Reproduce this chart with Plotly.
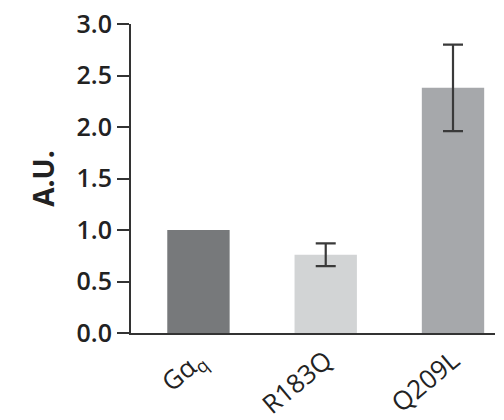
import plotly.graph_objects as go

categories = ["Gα<sub>q</sub>", "R183Q", "Q209L"]
values = [1.0, 0.76, 2.38]
err_categories = ["R183Q", "Q209L"]
err_values = [0.76, 2.38]
errors = [0.11, 0.42]
colors = ["#77797b", "#d2d4d5", "#a6a8ab"]
y_ticks = [0.0, 0.5, 1.0, 1.5, 2.0, 2.5, 3.0]
y_tick_labels = ["0.0", "0.5", "1.0", "1.5", "2.0", "2.5", "3.0"]

fig = go.Figure()
fig.add_trace(go.Bar(
    x=categories, y=values,
    marker=dict(color=colors, line=dict(width=0)),
    width=0.49,
))
fig.add_trace(go.Scatter(
    x=err_categories, y=err_values, mode="markers",
    marker=dict(size=1, opacity=0),
    error_y=dict(type="data", array=errors, visible=True,
                 color="#3a3a3a", thickness=2.2, width=10),
    hoverinfo="skip",
))

font_family = "Open Sans, Liberation Sans, Arial, sans-serif"
fig.update_layout(
    width=504, height=420,
    margin=dict(l=131, r=9, t=24, b=87),
    paper_bgcolor="white", plot_bgcolor="white",
    showlegend=False,
    font=dict(family=font_family, color="#222222"),
    xaxis=dict(
        type="category",
        categoryorder="array", categoryarray=categories,
        range=[-0.53, 2.33],
        automargin=False,
        showline=True, linecolor="#333333", linewidth=2,
        ticks="", showgrid=False, zeroline=False,
        tickangle=-40,
        tickfont=dict(size=26, family=font_family, color="#222222"),
        ticklabelstandoff=0,
    ),
    yaxis=dict(
        range=[0, 3.0],
        automargin=False,
        tickvals=y_ticks, ticktext=y_tick_labels,
        showline=True, linecolor="#333333", linewidth=2,
        ticks="outside", ticklen=12, tickwidth=2, tickcolor="#333333",
        showgrid=False, zeroline=False,
        tickfont=dict(size=25, family=font_family, color="#222222", weight=600),
        title=dict(text="<b>A.U.</b>", font=dict(size=28, family=font_family, color="#222222"),
                   standoff=14),
    ),
)

fig.write_html("out.html", config={"displayModeBar": False},
               post_script="document.body.style.margin='0';document.body.style.padding='0';")
